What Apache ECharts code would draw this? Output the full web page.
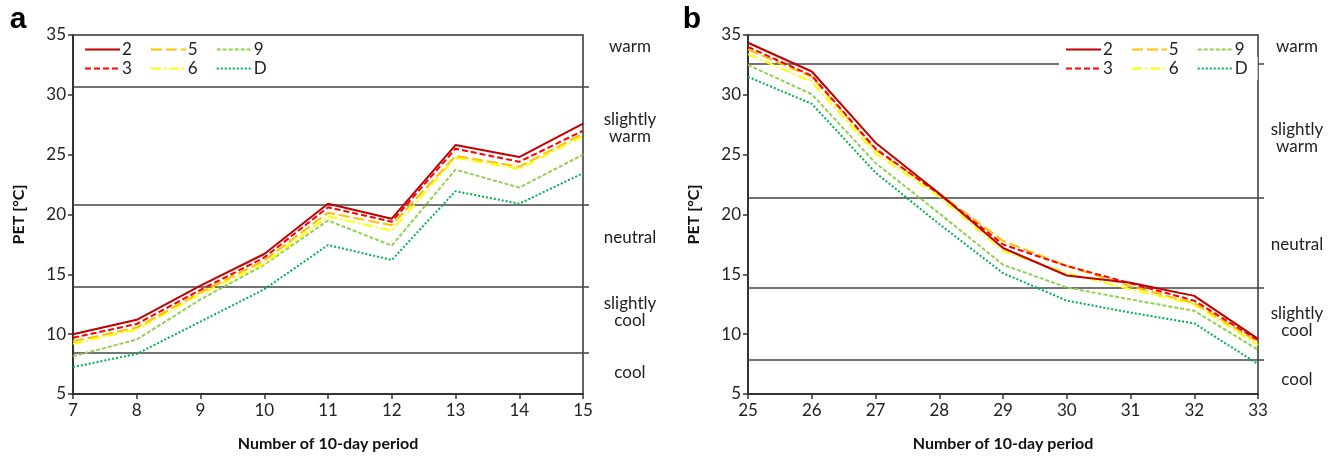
<!DOCTYPE html>
<html><head><meta charset="utf-8">
<script src="https://cdn.jsdelivr.net/npm/echarts@6/dist/echarts.min.js"></script>
<style>html,body{margin:0;padding:0;background:#fff}#c{width:1338px;height:457px}</style>
</head><body><div id="c"></div>
<script>
// ---------- data ----------
const periodsA = [7, 8, 9, 10, 11, 12, 13, 14, 15];
const periodsB = [25, 26, 27, 28, 29, 30, 31, 32, 33];
const seriesNames = ['2', '3', '5', '6', '9', 'D'];

const a2 = [10.0, 11.2, 14.05, 16.7, 20.9, 19.65, 25.8, 24.8, 27.6];
const a3 = [9.7, 10.85, 13.7, 16.4, 20.6, 19.4, 25.5, 24.4, 27.0];
const a5 = [9.4, 10.55, 13.5, 16.15, 20.15, 19.1, 24.9, 24.0, 26.75];
const a6 = [9.2, 10.4, 13.35, 15.9, 19.85, 18.65, 24.75, 23.8, 26.55];
const a9 = [8.15, 9.55, 12.9, 15.8, 19.5, 17.4, 23.75, 22.25, 25.0];
const aD = [7.25, 8.35, 11.05, 13.75, 17.45, 16.2, 21.95, 20.9, 23.45];

const b2 = [34.35, 31.95, 26.0, 21.75, 17.2, 14.9, 14.3, 13.2, 9.6];
const b3 = [34.0, 31.6, 25.5, 21.7, 17.5, 15.7, 14.25, 12.8, 9.5];
const b5 = [33.8, 31.5, 25.4, 21.75, 17.8, 15.7, 14.0, 12.6, 9.35];
const b6 = [33.4, 31.1, 25.1, 21.5, 16.95, 15.1, 13.75, 12.5, 9.1];
const b9 = [32.5, 30.05, 24.3, 20.1, 15.8, 13.9, 12.9, 11.95, 8.7];
const bD = [31.5, 29.25, 23.5, 19.2, 15.1, 12.8, 11.8, 10.9, 7.5];

const thresholdsA = [30.7, 20.8, 14.0, 8.45];
const thresholdsB = [32.6, 21.4, 13.9, 7.9];
const yTicks = [5, 10, 15, 20, 25, 30, 35];
const classLabels = ['warm', 'slightly\nwarm', 'neutral', 'slightly\ncool', 'cool'];
const xTitle = 'Number of 10-day period';
const yTitle = 'PET [°C]';
// ---------- end data ----------

const FONT = 'Lato';
const styles = {
  '2': {color: '#C00000', type: 'solid'},
  '3': {color: '#FF0000', type: [6, 3]},
  '5': {color: '#FFC000', type: [11, 4]},
  '6': {color: '#FFFF00', type: [10, 3, 2, 3]},
  '9': {color: '#92D050', type: [4, 2]},
  'D': {color: '#00B050', type: [2, 2]}
};
const dataA = {'2': a2, '3': a3, '5': a5, '6': a6, '9': a9, 'D': aD};
const dataB = {'2': b2, '3': b3, '5': b5, '6': b6, '9': b9, 'D': bD};

const grids = [
  {left: 73, top: 35, width: 510, height: 360, show: true, borderColor: '#333', borderWidth: 1.5},
  {left: 748, top: 35, width: 510, height: 360, show: true, borderColor: '#333', borderWidth: 1.5}
];

function xAxis(gi, p) {
  return {
    type: 'value', gridIndex: gi, min: p[0], max: p[p.length - 1], interval: 1,
    axisLine: {show: true, onZero: false, lineStyle: {color: '#333', width: 2}},
    axisTick: {show: true, length: 5, lineStyle: {color: '#333', width: 1.5}},
    axisLabel: {fontFamily: FONT, fontSize: 17, color: '#222', margin: 8},
    splitLine: {show: false},
    name: xTitle, nameLocation: 'middle', nameGap: 42,
    nameTextStyle: {fontFamily: FONT, fontSize: 16, fontWeight: 'bold', color: '#111'}
  };
}
function yAxis(gi) {
  return {
    type: 'value', gridIndex: gi, min: yTicks[0], max: yTicks[yTicks.length - 1], interval: 5,
    axisLine: {show: true, lineStyle: {color: '#333', width: 2}},
    axisTick: {show: true, length: 5, lineStyle: {color: '#333', width: 1.5}},
    axisLabel: {fontFamily: FONT, fontSize: 17, color: '#222', margin: 7},
    splitLine: {show: false},
    name: yTitle, nameLocation: 'middle', nameGap: 46, nameRotate: 90,
    nameTextStyle: {fontFamily: FONT, fontSize: 16, fontWeight: 'bold', color: '#111'}
  };
}
function yAxisRight(gi, thr) {
  return {
    type: 'value', gridIndex: gi, position: 'right', min: 5, max: 35,
    axisLine: {show: false},
    axisTick: {show: true, inside: false, length: 6, customValues: thr, lineStyle: {color: '#444', width: 1.5}},
    axisLabel: {show: false},
    splitLine: {show: false}
  };
}

const series = [];
function addSeries(gi, xs, data, thr) {
  const order = ['D', '9', '6', '5', '3', '2'];
  order.forEach(n => {
    const s = {
      type: 'line', name: n, xAxisIndex: gi, yAxisIndex: gi * 2,
      data: xs.map((x, i) => [x, data[n][i]]),
      symbol: 'none', showSymbol: false, silent: true,
      lineStyle: {color: styles[n].color, type: styles[n].type, width: 2},
      itemStyle: {color: styles[n].color},
      z: 3
    };
    if (n === 'D') {
      s.markLine = {
        silent: true, symbol: 'none', label: {show: false},
        lineStyle: {color: '#444', width: 1.5, type: 'solid'},
        data: thr.map(v => ({yAxis: v})), z: 1
      };
    }
    series.push(s);
  });
}
addSeries(0, periodsA, dataA, thresholdsA);
addSeries(1, periodsB, dataB, thresholdsB);

function legend(left, top, names, bg) {
  return {
    left: left, top: top, orient: 'horizontal', data: names,
    itemWidth: 35, itemHeight: 12, itemGap: 18, padding: bg ? [3, 10, 3, 6] : 2,
    backgroundColor: bg ? '#fff' : 'transparent',
    itemStyle: {opacity: 0, borderWidth: 0},
    lineStyle: {width: 2},
    textStyle: {fontFamily: FONT, fontSize: 17, color: '#222', padding: [0, 0, 0, -3]},
    selectedMode: false
  };
}

const graphics = [];
const classPosA = [47, 128, 238, 312, 373];
const classPosB = [47, 138, 245, 322, 380];
classLabels.forEach((t, i) => {
  graphics.push({type: 'text', x: 630, y: classPosA[i], silent: true,
    style: {text: t, fontFamily: FONT, fontSize: 17, fill: '#222', align: 'center', verticalAlign: 'middle', lineHeight: 17}});
  graphics.push({type: 'text', x: 1297, y: classPosB[i], silent: true,
    style: {text: t, fontFamily: FONT, fontSize: 17, fill: '#222', align: 'center', verticalAlign: 'middle', lineHeight: 17}});
});
graphics.push({type: 'text', x: 18, y: 20, silent: true,
  style: {text: 'a', fontFamily: 'Liberation Sans', fontSize: 30, fontWeight: 'bold', fill: '#000', align: 'center', verticalAlign: 'middle'}});
graphics.push({type: 'text', x: 692, y: 20, silent: true,
  style: {text: 'b', fontFamily: 'Liberation Sans', fontSize: 30, fontWeight: 'bold', fill: '#000', align: 'center', verticalAlign: 'middle'}});

const chart = echarts.init(document.getElementById('c'), null, {renderer: 'canvas'});
chart.setOption({
  animation: false,
  backgroundColor: '#fff',
  grid: grids,
  xAxis: [xAxis(0, periodsA), xAxis(1, periodsB)],
  yAxis: [yAxis(0), yAxisRight(0, thresholdsA), yAxis(1), yAxisRight(1, thresholdsB)],
  legend: [
    legend(82, 39, ['2', '5', '9'], false),
    legend(82, 58, ['3', '6', 'D'], false),
    legend(1059, 38, ['2', '5', '9'], true),
    legend(1059, 57, ['3', '6', 'D'], true)
  ],
  series: series,
  graphic: graphics
});
</script>
</body></html>
